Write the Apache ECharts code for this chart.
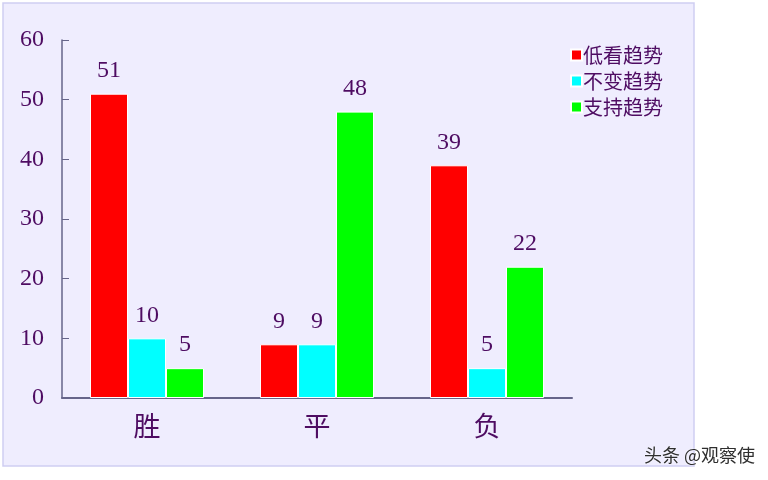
<!DOCTYPE html>
<html>
<head>
<meta charset="utf-8">
<script src="https://cdn.jsdelivr.net/npm/echarts@6/dist/echarts.min.js"></script>
<style>
  html, body { margin: 0; padding: 0; background: #fff; }
  #main { width: 768px; height: 480px; }
</style>
</head>
<body>
<div id="main"></div>
<script>
const categories = ['胜', '平', '负']
const seriesNames = ['低看趋势', '不变趋势', '支持趋势']
const lowValues = [51, 9, 39]
const sameValues = [10, 9, 5]
const upValues = [5, 48, 22]
const colors = ['#ff0000', '#00ffff', '#00ff00']

const textColor = '#4e0c62'
const numFont = '"Liberation Serif", "DejaVu Serif", serif'
const cjkFont = '"Noto Sans CJK SC", sans-serif'

const myChart = echarts.init(document.getElementById('main'))

const makeSeries = (name, data, i) => ({
  name: name,
  type: 'bar',
  data: data,
  barWidth: 38,
  barGap: '0%',
  itemStyle: {
    color: colors[i],
    borderColor: '#ffffff',
    borderWidth: 1
  },
  label: {
    show: true,
    position: 'top',
    distance: 11,
    color: textColor,
    fontFamily: numFont,
    fontSize: 24
  }
})

const option = {
  backgroundColor: '#ffffff',
  animation: false,
  graphic: [
    {
      type: 'rect',
      z: -10,
      silent: true,
      shape: { x: 3, y: 3, width: 691, height: 463 },
      style: { fill: '#efedfe', stroke: '#d0cef2', lineWidth: 1.5 }
    },
    {
      type: 'text',
      right: 13,
      top: 446,
      style: {
        text: '头条 @观察使',
        fill: '#2e2e2e',
        font: '18px "Noto Sans CJK SC", sans-serif',
        textShadowColor: '#ffffff',
        textShadowBlur: 2
      }
    }
  ],
  legend: {
    data: seriesNames,
    orient: 'vertical',
    left: 565,
    top: 40,
    itemWidth: 11,
    itemHeight: 11,
    itemGap: 6,
    icon: 'rect',
    textStyle: {
      color: textColor,
      fontFamily: cjkFont,
      fontSize: 20,
      padding: [0, 0, 0, -4]
    }
  },
  grid: {
    left: 62,
    right: 196,
    top: 40,
    bottom: 82
  },
  xAxis: {
    type: 'category',
    data: categories,
    axisLine: { lineStyle: { color: '#66658a', width: 2 } },
    axisTick: { inside: true, length: 9, lineStyle: { color: '#66658a' } },
    axisLabel: {
      color: textColor,
      fontFamily: cjkFont,
      fontSize: 27,
      margin: 14
    }
  },
  yAxis: {
    type: 'value',
    min: 0,
    max: 60,
    interval: 10,
    splitLine: { show: false },
    axisLine: { show: true, lineStyle: { color: '#66658a', width: 1.5 } },
    axisTick: { show: true, inside: true, length: 7, lineStyle: { color: '#66658a' } },
    axisLabel: {
      color: textColor,
      fontFamily: numFont,
      fontSize: 24,
      margin: 18
    }
  },
  series: [
    makeSeries(seriesNames[0], lowValues, 0),
    makeSeries(seriesNames[1], sameValues, 1),
    makeSeries(seriesNames[2], upValues, 2)
  ]
}

myChart.setOption(option)
</script>
</body>
</html>
